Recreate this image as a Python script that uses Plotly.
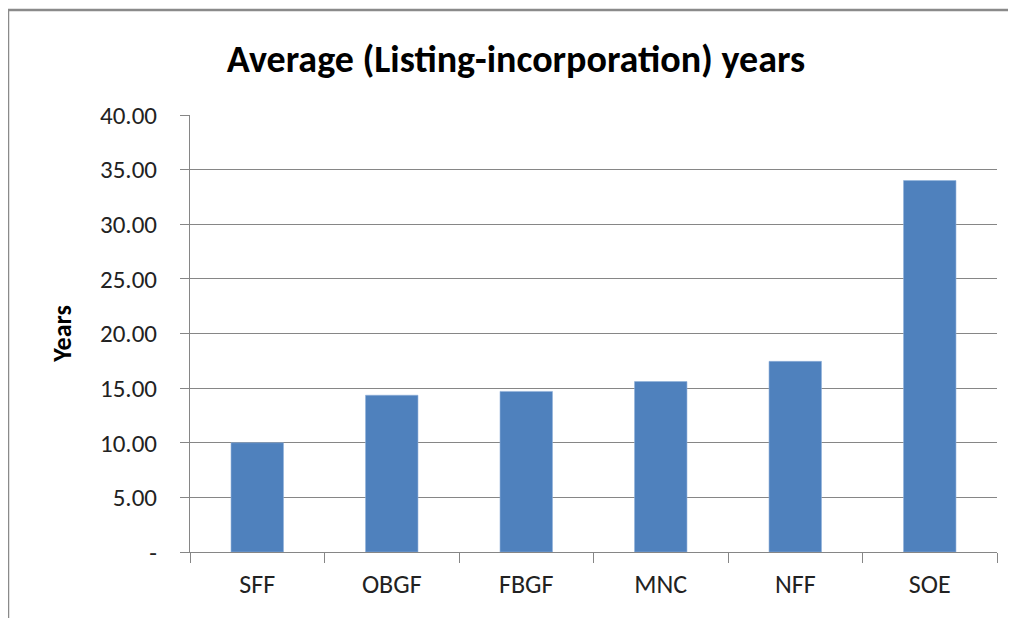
import plotly.graph_objects as go

categories = ["SFF", "OBGF", "FBGF", "MNC", "NFF", "SOE"]
values = [10.0, 14.35, 14.7, 15.6, 17.45, 34.0]
tick_vals = [0, 5, 10, 15, 20, 25, 30, 35, 40]
tick_text = ["-", "5.00", "10.00", "15.00", "20.00", "25.00", "30.00", "35.00", "40.00"]

FONT = "Carlito, Calibri, Lato"
GRID = "#868686"

fig = go.Figure()
fig.add_trace(go.Bar(
    x=categories, y=values, width=0.39,
    marker=dict(color="#4F81BD", line=dict(color="#8fb0da", width=0.6)),
))

# the page has an 8px body margin, so figure coords = screen coords - 8
OFF = 8
W, H = 1016 - OFF, 618 - OFF
L, R, T, B = 190 - OFF, 19, 115 - OFF, 66
pw, ph = W - L - R, H - T - B

def px(x):
    return (x - OFF - L) / pw

def py(y):
    return (H - B - (y - OFF)) / ph

fig.update_layout(
    width=W, height=H,
    margin=dict(l=L, r=R, t=T, b=B),
    paper_bgcolor="white", plot_bgcolor="white",
    showlegend=False,
    font=dict(family=FONT, color="#222222"),
    title=dict(text="<b>Average (Listing-incorporation) years</b>",
               x=(516 - OFF) / W, xanchor="center", y=1 - (59 - OFF) / H, yanchor="middle",
               font=dict(family=FONT, size=38, color="#000000")),
    xaxis=dict(
        showgrid=False, showline=True, linecolor=GRID, linewidth=1,
        ticks="outside", tickson="boundaries", ticklen=10, tickcolor=GRID,
        tickfont=dict(family=FONT, size=26, color="#222222"),
        ticklabelstandoff=9,
    ),
    yaxis=dict(
        range=[0, 40], tickvals=tick_vals, ticktext=tick_text,
        showgrid=True, gridcolor=GRID, gridwidth=1,
        showline=True, linecolor=GRID, linewidth=1,
        ticks="outside", ticklen=9, tickcolor=GRID,
        tickfont=dict(family=FONT, size=25, color="#222222"),
        ticklabelstandoff=18,
        zeroline=False,
        title=dict(text="<b>Years</b>", font=dict(family=FONT, size=26, color="#000000"), standoff=20),
    ),
    shapes=[
        dict(type="line", xref="paper", yref="paper", x0=px(8), x1=px(1016), y0=py(10), y1=py(10),
             line=dict(color="#8a8a8a", width=2.5)),
        dict(type="line", xref="paper", yref="paper", x0=px(8), x1=px(8), y0=py(10), y1=py(618),
             line=dict(color="#8a8a8a", width=2.5)),
    ],
)

fig.write_html("out.html", config={"displayModeBar": False})
